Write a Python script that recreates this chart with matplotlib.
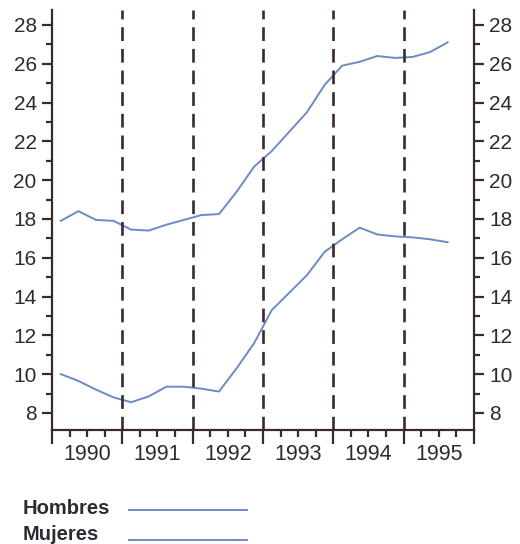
import matplotlib.pyplot as plt
from matplotlib.ticker import MultipleLocator

# trimestres (posición en años, punto medio de cada trimestre)
trimestres = [1990.125 + 0.25 * i for i in range(23)]

hombres = [17.9, 18.4, 17.95, 17.9, 17.45, 17.4, 17.7, 17.95, 18.2, 18.25,
           19.4, 20.7, 21.5, 22.5, 23.5, 24.9, 25.9, 26.1, 26.4, 26.3,
           26.35, 26.6, 27.1]
mujeres = [10.0, 9.65, 9.2, 8.8, 8.55, 8.85, 9.35, 9.35, 9.25, 9.1,
           10.3, 11.6, 13.3, 14.2, 15.1, 16.3, 16.95, 17.55, 17.2, 17.1,
           17.05, 16.95, 16.8]

anios = [1990, 1991, 1992, 1993, 1994, 1995]
cortes = [1991, 1992, 1993, 1994, 1995]

azul = '#6a8cc2'
oscuro = '#3a2a30'

plt.rcParams['font.family'] = ['Liberation Sans', 'DejaVu Sans']

fig = plt.figure(figsize=(5.2, 5.44), dpi=100)
ax = fig.add_axes([0.1, 0.2096, 0.8115, 0.772])

ax.plot(trimestres, hombres, color=azul, lw=1.4)
ax.plot(trimestres, mujeres, color=azul, lw=1.4)

for c in cortes:
    ax.axvline(c, color=oscuro, lw=1.9, linestyle=(0, (5.2, 3.0)))

ax.set_xlim(1990, 1996)
ax.set_ylim(7.12, 28.77)

ax.spines['top'].set_visible(False)
for s in ['left', 'right', 'bottom']:
    ax.spines[s].set_color(oscuro)
    ax.spines[s].set_linewidth(1.6)

ax.yaxis.set_minor_locator(MultipleLocator(1))
ax.set_yticks(range(8, 29, 2))
ax.tick_params(axis='y', which='both', left=True, right=True,
               labelleft=True, labelright=True, direction='out',
               colors=oscuro, labelcolor='#2e2a2e', labelsize=15, width=1.6)
ax.tick_params(axis='y', which='major', length=7, pad=4)
ax.tick_params(axis='y', which='minor', length=4)

ax.set_xticks(anios + [1996])
ax.xaxis.set_minor_locator(MultipleLocator(0.25))
ax.tick_params(axis='x', which='both', direction='out', colors=oscuro,
               labelbottom=False, width=1.6)
ax.tick_params(axis='x', which='major', length=10)
ax.tick_params(axis='x', which='minor', length=5)

for a in anios:
    ax.text(a + 0.5, -0.033, str(a), transform=ax.get_xaxis_transform(),
            ha='center', va='top', fontsize=15.5, color='#2e2a2e')

# leyenda dibujada a mano bajo el gráfico
fig.text(0.044, 1 - 508 / 544, 'Hombres', fontsize=14.5, fontweight='bold',
         color='#2e2a33', va='center')
fig.text(0.044, 1 - 534 / 544, 'Mujeres', fontsize=14.5, fontweight='bold',
         color='#2e2a33', va='center')
fig.add_artist(plt.Line2D([129 / 520, 247 / 520], [1 - 510 / 544] * 2,
                          color=azul, lw=1.4))
fig.add_artist(plt.Line2D([129 / 520, 247 / 520], [1 - 540 / 544] * 2,
                          color=azul, lw=1.4))

fig.savefig('out.png', dpi=100)
